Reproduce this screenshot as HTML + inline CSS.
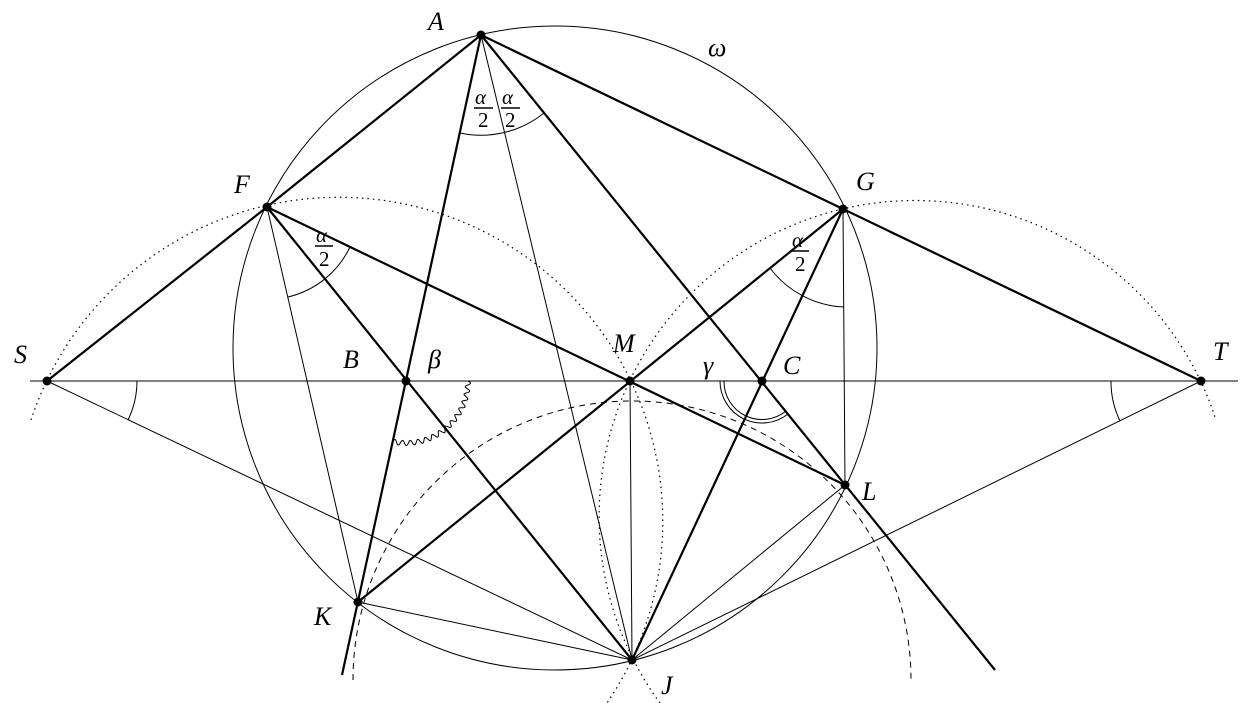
<!DOCTYPE html>
<html><head><meta charset="utf-8"><style>
html,body{margin:0;padding:0;background:#fff;}
svg{display:block}
text{font-family:"Liberation Serif",serif;font-style:italic;fill:#000}
.up{font-style:normal}
</style></head><body>
<svg width="1242" height="703" viewBox="0 0 1242 703" xmlns="http://www.w3.org/2000/svg">
<g fill="none" stroke="#000">
<circle cx="555" cy="348" r="322" stroke-width="1"/>
<path d="M31,420 A324,324 0 1 1 607,703" stroke-width="1.2" stroke-dasharray="1.5,4"/>
<path d="M660,703 A316,316 0 1 1 1216,420" stroke-width="1.2" stroke-dasharray="1.5,4"/>
<path d="M353,680 A279,279 0 1 1 911,680" stroke-width="1" stroke-dasharray="6,5"/>
<g stroke-width="1">
<line x1="30" y1="381" x2="1238" y2="381"/>
<line x1="481" y1="35" x2="632" y2="660"/>
<line x1="267" y1="207" x2="358" y2="602"/>
<line x1="843" y1="209" x2="845" y2="485"/>
<line x1="630" y1="381" x2="632" y2="660"/>
<line x1="47" y1="381" x2="632" y2="660"/>
<line x1="1201" y1="381" x2="632" y2="660"/>
<line x1="358" y1="602" x2="632" y2="660"/>
<line x1="845" y1="485" x2="632" y2="660"/>
<path d="M460,133 A100,100 0 0 0 544,113"/>
<path d="M137,381 A90,90 0 0 1 128,420"/>
<path d="M1111,381 A90,90 0 0 0 1120,421"/>
<path d="M288,297 A92,92 0 0 0 350,247"/>
<path d="M770,268 A98,98 0 0 0 844,307"/>
<path d="M720,381 A42,42 0 0 0 788,414"/>
<path d="M724,381 A38,38 0 0 0 786,411"/>
<path id="wavy" d=""/>
</g>
<g stroke-width="2.2">
<line x1="481" y1="35" x2="267" y2="207"/>
<line x1="267" y1="207" x2="47" y2="381"/>
<line x1="481" y1="35" x2="843" y2="209"/>
<line x1="843" y1="209" x2="1201" y2="381"/>
<line x1="481" y1="35" x2="995" y2="670"/>
<line x1="481" y1="35" x2="342" y2="675"/>
<line x1="267" y1="207" x2="845" y2="485"/>
<line x1="267" y1="207" x2="632" y2="660"/>
<line x1="843" y1="209" x2="358" y2="602"/>
<line x1="843" y1="209" x2="632" y2="660"/>
</g>
</g>
<g fill="#000">
<circle cx="481" cy="35" r="4.5"/><circle cx="267" cy="207" r="4.5"/><circle cx="843" cy="209" r="4.5"/>
<circle cx="47" cy="381" r="4.5"/><circle cx="406" cy="381" r="4.5"/><circle cx="630" cy="381" r="4.5"/>
<circle cx="762" cy="381" r="4.5"/><circle cx="1201" cy="381" r="4.5"/><circle cx="845" cy="485" r="4.5"/>
<circle cx="358" cy="602" r="4.5"/><circle cx="632" cy="660" r="4.5"/>
</g>
<g font-size="26">
<text x="428" y="30">A</text>
<text x="708" y="56">ω</text>
<text x="234" y="193">F</text>
<text x="856" y="190">G</text>
<text x="14" y="363">S</text>
<text x="343" y="368">B</text>
<text x="428" y="368">β</text>
<text x="613" y="352">M</text>
<text x="703" y="374">γ</text>
<text x="783" y="374">C</text>
<text x="1213" y="360">T</text>
<text x="862" y="500">L</text>
<text x="314" y="625">K</text>
<text x="661" y="694">J</text>
</g>
<g font-size="21">
<text x="475" y="104">α</text><line x1="474" y1="108" x2="493" y2="108" stroke="#000" stroke-width="1.5"/><text class="up" x="478" y="127">2</text>
<text x="502" y="104">α</text><line x1="501" y1="108" x2="520" y2="108" stroke="#000" stroke-width="1.5"/><text class="up" x="505" y="127">2</text>
<text x="316" y="242">α</text><line x1="315" y1="246" x2="333" y2="246" stroke="#000" stroke-width="1.5"/><text class="up" x="319" y="266">2</text>
<text x="792" y="247">α</text><line x1="791" y1="251" x2="809" y2="251" stroke="#000" stroke-width="1.5"/><text class="up" x="795" y="271">2</text>
</g>
</svg>
<script>
(function(){
var cx=406,cy=381,r=62,a0=0,a1=Math.atan2(59,-13);
var n=200,d="";
for(var i=0;i<=n;i++){var t=i/n,a=a0+(a1-a0)*t,rr=r+2.5*Math.sin(t*2*Math.PI*14);
d+=(i?"L":"M")+(cx+rr*Math.cos(a)).toFixed(1)+","+(cy+rr*Math.sin(a)).toFixed(1);}
document.getElementById("wavy").setAttribute("d",d);
})();
</script>
</body></html>
